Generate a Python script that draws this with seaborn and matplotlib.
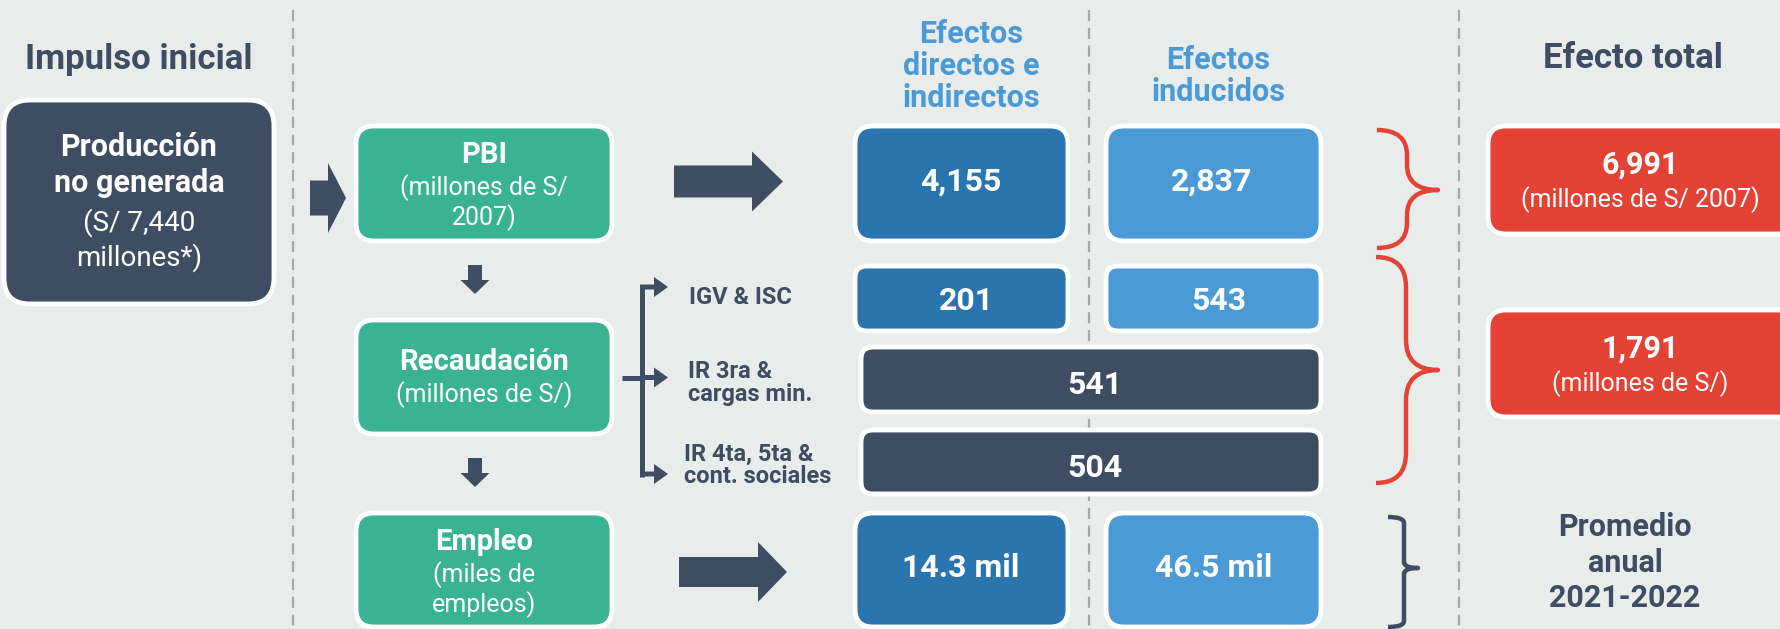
import matplotlib
matplotlib.use('Agg')
import matplotlib.pyplot as plt
import seaborn as sns
from matplotlib.patches import FancyBboxPatch, FancyArrow, PathPatch
from matplotlib.path import Path

sns.set_theme(style='white')
plt.rcParams['font.family'] = ['Liberation Sans Narrow', 'Roboto', 'DejaVu Sans']

BG = '#E8ECEB'
SLATE = '#3E4D61'
TEAL = '#3AB394'
DBLUE = '#2A75AE'
LBLUE = '#4B9AD5'
RED = '#E34234'
HEAD_BLUE = '#4A9AD6'
DASH = '#A5A8AA'

# ---- data ----
initial_output = 7440                       # millones de S/
stage_names = ['PBI', 'Recaudación', 'Empleo']
stage_units = ['(millones de S/\n2007)', '(millones de S/)', '(miles de\nempleos)']
pbi_effects = [4155, 2837]                  # directos e indirectos, inducidos
tax_names = ['IGV & ISC', 'IR 3ra &\ncargas min.', 'IR 4ta, 5ta &\ncont. sociales']
igv_isc_effects = [201, 543]
ir_effects = [541, 504]                     # IR 3ra / IR 4ta-5ta (sin separar)
job_effects = [14.3, 46.5]                  # miles de empleos
total_effects = [6991, 1791]
total_units = ['(millones de S/ 2007)', '(millones de S/)']

# ---- layout (pixels of the 1781x629 canvas) ----
W, H = 1781, 629
col_stage = (358, 610)
col_direct = (857, 1066)
col_induced = (1108, 1319)
col_merged = (863, 1319)
col_total = (1490, 1800)
stage_rows = [(128, 239), (322, 432), (515, 625)]
tax_rows = [(268, 329), (349, 410), (432, 492)]
total_rows = [(128, 232), (312, 415)]
dash_x = [293, 1089, 1459]

fig = plt.figure(figsize=(W / 100, H / 100), dpi=100)
fig.patch.set_facecolor(BG)
ax = fig.add_axes([0, 0, 1, 1])
ax.set_xlim(0, W)
ax.set_ylim(H, 0)
ax.axis('off')


def box(xs, ys, color, r=18):
    x0, x1 = xs
    y0, y1 = ys
    ax.add_patch(FancyBboxPatch((x0 - 2, y0 - 2), x1 - x0 + 4, y1 - y0 + 4,
                                boxstyle=f'round,pad=0,rounding_size={r}',
                                fc=color, ec='white', lw=3.5, zorder=3))


def txt(x, y, s, size, color='white', weight='normal', ha='center', **kw):
    ax.text(x, y, s, fontsize=size, color=color, fontweight=weight,
            ha=ha, va='center', zorder=5, **kw)


def brace(x0, xs, x1, y0, y1, ytip, r, color, lw):
    verts = [(x0, y0), (xs, y0), (xs, y0 + r),
             (xs, ytip - r), (xs, ytip), (x1, ytip),
             (xs, ytip), (xs, ytip + r),
             (xs, y1 - r), (xs, y1), (x0, y1)]
    codes = [Path.MOVETO, Path.CURVE3, Path.CURVE3,
             Path.LINETO, Path.CURVE3, Path.CURVE3,
             Path.CURVE3, Path.CURVE3,
             Path.LINETO, Path.CURVE3, Path.CURVE3]
    ax.add_patch(PathPatch(Path(verts, codes), fill=False, ec=color, lw=lw,
                           capstyle='butt', joinstyle='round', zorder=4))


def mid(p):
    return (p[0] + p[1]) / 2


# dashed separators
for x in dash_x:
    ax.plot([x, x], [10, H], color=DASH, lw=1.6, ls=(0, (5, 3)), zorder=1)

# headers
txt(139, 60, 'Impulso inicial', 25, SLATE, 'bold')
txt(mid(col_direct) + 10, 66, 'Efectos\ndirectos e\nindirectos', 22, HEAD_BLUE, 'bold', linespacing=1.08)
txt(mid(col_induced) + 5, 76, 'Efectos\ninducidos', 22, HEAD_BLUE, 'bold', linespacing=1.08)
txt(1633, 58, 'Efecto total', 25, SLATE, 'bold')

# initial impulse
box((6, 272), (102, 302), SLATE, r=26)
txt(139, 147, 'Producción', 22, weight='bold')
txt(139, 183, 'no generada', 22, weight='bold')
txt(139, 223, f'(S/ {initial_output:,}', 20)
txt(139, 258, 'millones*)', 20)
ax.add_patch(FancyArrow(310, 198, 36, 0, width=35, head_width=70, head_length=18,
                        length_includes_head=True, fc=SLATE, ec='none', zorder=3))

# stages column
for name, unit, ys in zip(stage_names, stage_units, stage_rows):
    box(col_stage, ys, TEAL)
    n_lines = unit.count('\n') + 1
    top = ys[0] + (27 if n_lines == 2 else 40)
    txt(484, top, name, 21, weight='bold')
    for i, line in enumerate(unit.split('\n')):
        txt(484, top + 33 + 30 * i, line, 18)

for y0 in (265, 458):
    ax.add_patch(FancyArrow(475, y0, 0, 29, width=14, head_width=29, head_length=14,
                            length_includes_head=True, fc=SLATE, ec='none', zorder=3))

# block arrows to effects
ax.add_patch(FancyArrow(674, mid(stage_rows[0]) - 2, 109, 0, width=32, head_width=60,
                        head_length=31, length_includes_head=True, fc=SLATE, ec='none', zorder=3))
ax.add_patch(FancyArrow(679, mid(stage_rows[2]) + 2, 108, 0, width=30, head_width=60,
                        head_length=29, length_includes_head=True, fc=SLATE, ec='none', zorder=3))

# tax branch bracket
bx = 642
tax_y = [287, mid(tax_rows[1]) - 2, 474]
ax.plot([bx, bx], [tax_y[0] - 2.5, tax_y[2] + 2.5], color=SLATE, lw=3.6,
        solid_capstyle='butt', zorder=3)
ax.plot([622, bx], [tax_y[1], tax_y[1]], color=SLATE, lw=3.6, solid_capstyle='butt', zorder=3)
for y in tax_y:
    ax.add_patch(FancyArrow(bx - 2, y, 670 - bx, 0, width=5, head_width=20, head_length=14,
                            length_includes_head=True, fc=SLATE, ec='none', zorder=3))
txt(689, 297, tax_names[0], 17, SLATE, 'bold', ha='left')
txt(688, 383, tax_names[1], 17, SLATE, 'bold', ha='left', linespacing=0.95)
txt(684, 465, tax_names[2], 17, SLATE, 'bold', ha='left', linespacing=0.95)

# effects: PBI
box(col_direct, stage_rows[0], DBLUE)
box(col_induced, stage_rows[0], LBLUE)
txt(961, 182, f'{pbi_effects[0]:,}', 23, weight='bold')
txt(1212, 182, f'{pbi_effects[1]:,}', 23, weight='bold')

# effects: taxes
box(col_direct, tax_rows[0], DBLUE, r=12)
box(col_induced, tax_rows[0], LBLUE, r=12)
txt(966, 301, f'{igv_isc_effects[0]:,}', 23, weight='bold')
txt(1219, 301, f'{igv_isc_effects[1]:,}', 23, weight='bold')
for val, ys in zip(ir_effects, tax_rows[1:]):
    box(col_merged, ys, SLATE, r=12)
    txt(mid(col_merged) + 4, mid(ys) + 6, f'{val:,}', 23, weight='bold')

# effects: jobs
box(col_direct, stage_rows[2], DBLUE)
box(col_induced, stage_rows[2], LBLUE)
txt(961, 568, f'{job_effects[0]:.1f} mil', 23, weight='bold')
txt(1214, 568, f'{job_effects[1]:.1f} mil', 23, weight='bold')

# braces
brace(1377, 1407, 1438, 130, 248, 190, 25, RED, 3.2)
brace(1376, 1406, 1438, 257, 483, 370, 30, RED, 3.2)
brace(1388, 1404, 1418, 517, 627, 568, 6, SLATE, 3.2)

# totals
for val, unit, ys in zip(total_effects, total_units, total_rows):
    box(col_total, ys, RED)
    txt(1640, ys[0] + 37, f'{val:,}', 22, weight='bold')
    txt(1640, ys[0] + 72, unit, 18)

txt(1625, 527, 'Promedio', 22, SLATE, 'bold')
txt(1625, 563, 'anual', 22, SLATE, 'bold')
txt(1625, 598, '2021-2022', 22, SLATE, 'bold')

fig.savefig('out.png', dpi=100, facecolor=BG)
